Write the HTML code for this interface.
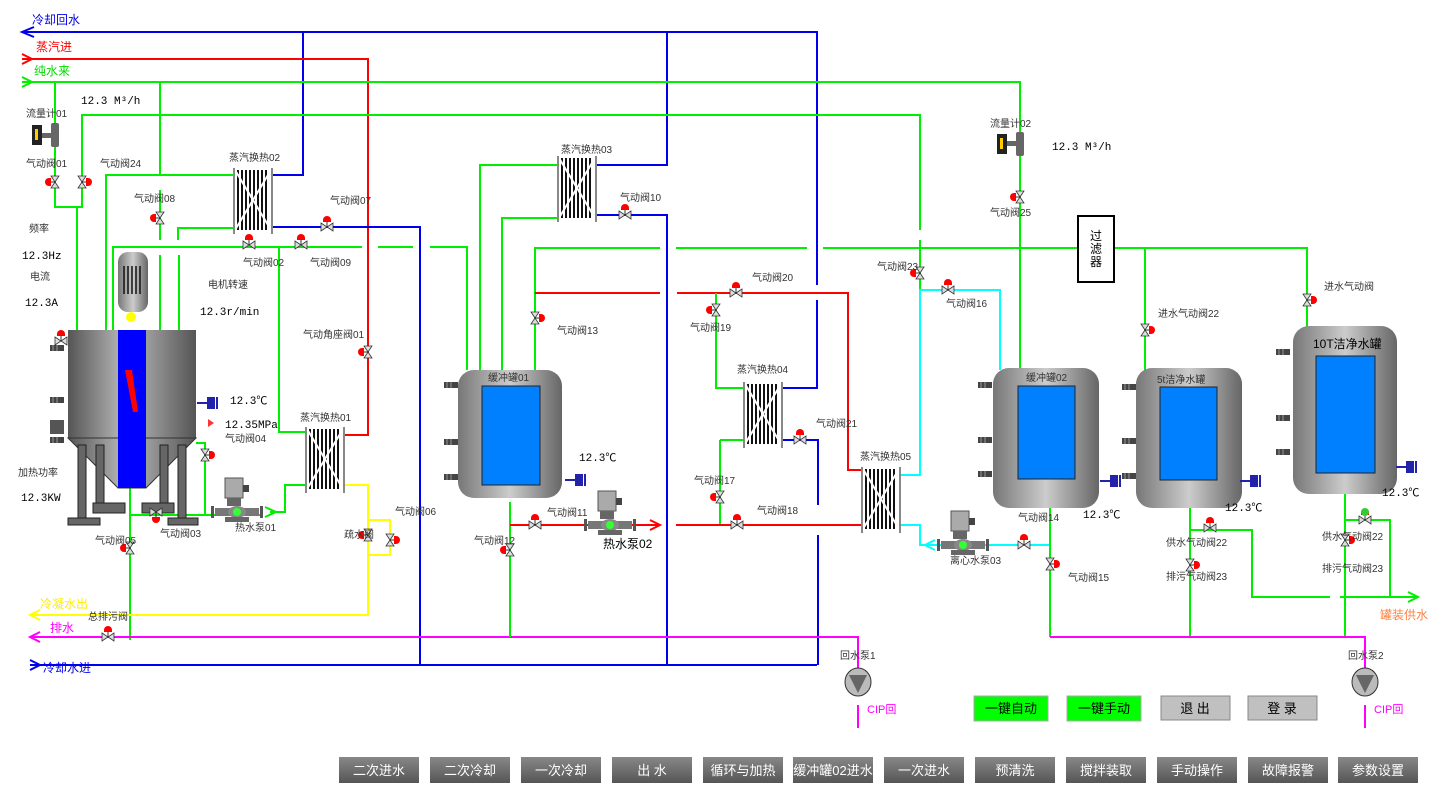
<!DOCTYPE html>
<html><head><meta charset="utf-8"><style>
html,body{margin:0;padding:0;background:#fff;}
svg{display:block;font-family:"Liberation Sans","Noto Sans CJK SC",sans-serif;}
.s{font-size:10px;fill:#333;}
.m{font-size:11px;fill:#000;font-family:"Liberation Mono","Noto Sans CJK SC",monospace;}
.g{stroke:#00ee00;stroke-width:2;fill:none;}
.b{stroke:#0000ee;stroke-width:2;fill:none;}
.r{stroke:#ff0000;stroke-width:2;fill:none;}
.y{stroke:#ffff00;stroke-width:2;fill:none;}
.p{stroke:#ff00ff;stroke-width:2;fill:none;}
.c{stroke:#00ffff;stroke-width:2;fill:none;}
.btn{fill:url(#bg);}
.bt{font-size:13px;fill:#fff;text-anchor:middle;}
</style></head><body>
<svg width="1437" height="806" viewBox="0 0 1437 806">
<defs>
<linearGradient id="tk" x1="0" x2="1"><stop offset="0" stop-color="#555"/><stop offset="0.45" stop-color="#bbb"/><stop offset="1" stop-color="#555"/></linearGradient>
<linearGradient id="tk2" x1="0" x2="1"><stop offset="0" stop-color="#777"/><stop offset="0.5" stop-color="#ccc"/><stop offset="1" stop-color="#666"/></linearGradient>
<linearGradient id="bg" x1="0" y1="0" x2="0" y2="1"><stop offset="0" stop-color="#888"/><stop offset="1" stop-color="#555"/></linearGradient>
<g id="vh"><path d="M-6,-4 L0,0 L-6,4Z M6,-4 L0,0 L6,4Z" fill="#ddd" stroke="#333" stroke-width="0.8"/><line x1="0" y1="0" x2="0" y2="-6" stroke="#333"/><path d="M-4,-7 a4,4 0 0 1 8,0 l0,2 h-8z" fill="#f00"/></g>
<g id="vv"><path d="M-4,-6 L0,0 L4,-6Z M-4,6 L0,0 L4,6Z" fill="#ddd" stroke="#333" stroke-width="0.8"/><line x1="0" y1="0" x2="-6" y2="0" stroke="#333"/><path d="M-6,-4 a4,4 0 0 0 0,8 h2 v-8z" fill="#f00"/></g>
<g id="vvr"><path d="M-4,-6 L0,0 L4,-6Z M-4,6 L0,0 L4,6Z" fill="#ddd" stroke="#333" stroke-width="0.8"/><line x1="0" y1="0" x2="6" y2="0" stroke="#333"/><path d="M6,-4 a4,4 0 0 1 0,8 h-2 v-8z" fill="#f00"/></g>
<g id="hx"><rect x="0" y="0" width="40" height="64" fill="#fff"/><g stroke="#111" stroke-width="2"><line x1="5" y1="2" x2="5" y2="62"/><line x1="9" y1="2" x2="9" y2="62"/><line x1="13" y1="2" x2="13" y2="62"/><line x1="17" y1="2" x2="17" y2="62"/><line x1="21" y1="2" x2="21" y2="62"/><line x1="25" y1="2" x2="25" y2="62"/><line x1="29" y1="2" x2="29" y2="62"/><line x1="33" y1="2" x2="33" y2="62"/></g><path d="M2,2 L38,62 M38,2 L2,62" stroke="#fff" stroke-width="2"/><rect x="0" y="0" width="2" height="66" fill="#888"/><rect x="38" y="0" width="2" height="66" fill="#888"/></g>
<g id="pump"><rect x="-12" y="-34" width="18" height="20" fill="#aaa" stroke="#555"/><rect x="6" y="-27" width="6" height="7" fill="#444"/><rect x="-10" y="-14" width="14" height="8" fill="#666"/><rect x="-22" y="-4" width="44" height="8" fill="#777"/><rect x="-26" y="-6" width="3" height="12" fill="#555"/><rect x="23" y="-6" width="3" height="12" fill="#555"/><ellipse cx="0" cy="0" rx="9" ry="6" fill="#888"/><circle cx="0" cy="0" r="4" fill="#3f3"/><rect x="-12" y="5" width="24" height="5" fill="#666"/></g>
<g id="tt"><rect x="0" y="-6" width="8" height="12" fill="#22a"/><line x1="-10" y1="0" x2="0" y2="0" stroke="#22a" stroke-width="2"/><line x1="10" y1="-6" x2="10" y2="6" stroke="#22a" stroke-width="2"/></g>
<g id="nz"><rect x="0" y="-3" width="14" height="6" fill="#444"/><line x1="3" y1="-3" x2="3" y2="3" stroke="#999"/><line x1="7" y1="-3" x2="7" y2="3" stroke="#999"/></g>
</defs>

<path class="b" d="M24,32 H817 V285 M817,300 V388 H780"/>
<path d="M34,27 L22,32 L34,37" class="b"/>
<path class="b" d="M303,32 V175 H271"/>
<path class="b" d="M667,32 V165 H597"/>
<path class="r" d="M22,59 H368 V435 H345"/>
<path d="M22,54 L32,59 L22,64" class="r"/>
<path class="g" d="M22,82 H1020 V370"/>
<path d="M22,77 L32,82 L22,87" class="g"/>
<path class="g" d="M160,82 V175 M160,190 V240 M160,255 V330"/>
<path class="g" d="M55,82 V207 H82 V115 H920 V230 M920,240 V475 H901"/>
<path class="g" d="M77,207 V330"/>
<path class="g" d="M106,330 V175 H233"/>
<path class="g" d="M113,330 V247 H362 M378,247 H413 M430,247 H467 V370"/>
<path class="g" d="M178,240 V228 H233"/>
<path class="g" d="M179,255 V330 M279,247 V432 H305"/>
<path class="b" d="M271,227 H420 V665"/>
<path class="g" d="M480,370 V165 H557 M502,370 V218 H557 M535,370 V248 H660 M676,248 H807 M823,248 H1307 V340"/>
<path class="r" d="M535,293 H660 M677,293 H848 V470 H861"/>
<path class="b" d="M597,215 H667 V665"/>
<path class="g" d="M716,293 V388 H743"/>
<path class="b" d="M783,440 H818 V505 M818,535 V665"/>
<path class="g" d="M720,440 H743 M720,440 V525"/>
<path class="r" d="M676,525 H861"/>
<path class="c" d="M901,475 H920 V290 H1000 V370"/>
<path class="c" d="M901,525 H920 V545 H1050"/>
<path d="M935,540 L925,545 L935,550" class="c"/>
<path class="g" d="M1145,248 V370"/>
<path class="g" d="M196,443 H205 V515 H130"/>
<path class="g" d="M130,488 V640"/>
<path class="g" d="M205,515 H260 M270,512 H285 V485 H305"/>
<path d="M265,507 L276,512 L265,517" class="g"/>
<path class="y" d="M345,485 H368 V615 H30"/>
<path class="y" d="M368,520 H390 V555 H368"/>
<path d="M40,610 L30,615 L40,620" class="y"/>
<path class="p" d="M30,637 H858 V690 M858,705 V728"/>
<path d="M40,632 L30,637 L40,642" class="p"/>
<path class="b" d="M30,665 H817"/>
<path d="M30,660 L40,665 L30,670" class="b"/>
<path class="g" d="M510,502 V637"/>
<path class="r" d="M510,525 H660"/>
<path d="M650,520 L660,525 L650,530" class="r"/>
<path class="c" d="M1018,545 H1050"/>
<path class="g" d="M1050,505 V637 M1190,505 V637 M1345,492 V637"/>
<path class="p" d="M1050,637 H1365 V690 M1365,705 V728"/>
<path class="g" d="M1190,530 H1252 V597 H1330 M1345,520 H1390 V597 M1340,597 H1418"/>
<path d="M1408,592 L1418,597 L1408,602" class="g"/>

<use href="#hx" x="233" y="168"/>
<use href="#hx" x="305" y="427"/>
<use href="#hx" x="557" y="156"/>
<use href="#hx" x="743" y="382"/>
<use href="#hx" x="861" y="467"/>

<rect x="68" y="330" width="128" height="108" fill="url(#tk)"/>
<path d="M68,438 H196 L146,488 H118Z" fill="url(#tk)" stroke="#333"/>
<g fill="#666" stroke="#222"><rect x="78" y="445" width="8" height="75"/><rect x="96" y="445" width="8" height="60"/><rect x="160" y="445" width="8" height="60"/><rect x="178" y="445" width="8" height="75"/><rect x="68" y="518" width="32" height="7"/><rect x="168" y="518" width="30" height="7"/><rect x="93" y="503" width="32" height="10"/><rect x="142" y="503" width="32" height="10"/></g>
<rect x="118" y="330" width="28" height="158" fill="#0000ff"/>
<path d="M125,370 L132,370 L138,412 L133,412Z" fill="#f00"/>
<rect x="118" y="252" width="30" height="60" rx="10" fill="url(#tk2)"/>
<g stroke="#111" stroke-width="1.5"><line x1="124" y1="266" x2="124" y2="294"/><line x1="128" y1="266" x2="128" y2="294"/><line x1="132" y1="266" x2="132" y2="294"/><line x1="136" y1="266" x2="136" y2="294"/><line x1="140" y1="266" x2="140" y2="294"/></g>
<circle cx="131" cy="317" r="5" fill="#ff0"/>
<use href="#nz" x="50" y="348"/><use href="#nz" x="50" y="400"/><use href="#nz" x="50" y="440"/>
<rect x="50" y="420" width="14" height="14" fill="#555"/>
<use href="#tt" x="207" y="403"/>
<path d="M200,423 h8 v-4 l6,4 -6,4 v-4" fill="#f33"/>

<rect x="458" y="370" width="104" height="128" rx="16" fill="url(#tk2)"/>
<rect x="482" y="386" width="58" height="99" fill="#0080ff" stroke="#222"/>
<use href="#nz" x="444" y="385"/><use href="#nz" x="444" y="442"/><use href="#nz" x="444" y="477"/>
<use href="#tt" x="575" y="480"/>
<rect x="993" y="368" width="106" height="140" rx="16" fill="url(#tk2)"/>
<rect x="1018" y="386" width="57" height="93" fill="#0080ff" stroke="#222"/>
<rect x="1136" y="368" width="106" height="140" rx="16" fill="url(#tk2)"/>
<rect x="1160" y="387" width="57" height="93" fill="#0080ff" stroke="#222"/>
<rect x="1293" y="326" width="104" height="168" rx="16" fill="url(#tk2)"/>
<rect x="1316" y="356" width="59" height="117" fill="#0080ff" stroke="#222"/>
<use href="#nz" x="978" y="385"/><use href="#nz" x="978" y="440"/><use href="#nz" x="978" y="474"/>
<use href="#nz" x="1122" y="387"/><use href="#nz" x="1122" y="441"/><use href="#nz" x="1122" y="476"/>
<use href="#nz" x="1276" y="352"/><use href="#nz" x="1276" y="418"/><use href="#nz" x="1276" y="452"/>
<use href="#tt" x="1110" y="481"/><use href="#tt" x="1250" y="481"/><use href="#tt" x="1406" y="467"/>

<rect x="1078" y="216" width="36" height="66" fill="#fff" stroke="#000" stroke-width="2"/>
<text x="1096" y="240" font-size="12" text-anchor="middle">过</text><text x="1096" y="253" font-size="12" text-anchor="middle">滤</text><text x="1096" y="266" font-size="12" text-anchor="middle">器</text>

<g><rect x="32" y="125" width="10" height="20" fill="#222"/><rect x="35" y="129" width="3" height="11" fill="#fc0"/><rect x="42" y="133" width="9" height="5" fill="#666"/><rect x="51" y="123" width="8" height="24" rx="2" fill="#666"/></g>
<g><rect x="997" y="134" width="10" height="20" fill="#222"/><rect x="1000" y="138" width="3" height="11" fill="#fc0"/><rect x="1007" y="141" width="9" height="5" fill="#666"/><rect x="1016" y="132" width="8" height="24" rx="2" fill="#666"/></g>

<use href="#pump" x="237" y="512"/>
<use href="#pump" x="610" y="525"/>
<use href="#pump" x="963" y="545"/>
<g><ellipse cx="858" cy="682" rx="13" ry="14" fill="#bbb" stroke="#333"/><path d="M849,675 H867 L858,693Z" fill="#666"/></g>
<g><ellipse cx="1365" cy="682" rx="13" ry="14" fill="#bbb" stroke="#333"/><path d="M1356,675 H1374 L1365,693Z" fill="#666"/></g>

<use href="#vv" x="55" y="182"/><use href="#vvr" x="82" y="182"/>
<use href="#vv" x="160" y="218"/>
<use href="#vh" x="249" y="245"/><use href="#vh" x="301" y="245"/><use href="#vh" x="327" y="227"/>
<use href="#vh" x="61" y="341"/>
<use href="#vv" x="368" y="352"/>
<use href="#vvr" x="205" y="455"/>
<use href="#vh" x="156" y="518" transform="rotate(180 156 515)"/>
<use href="#vv" x="130" y="548"/>
<use href="#vvr" x="390" y="540"/>
<use href="#vv" x="368" y="535"/>
<use href="#vh" x="108" y="637"/>
<use href="#vh" x="625" y="215"/>
<use href="#vvr" x="535" y="318"/>
<use href="#vh" x="736" y="293"/>
<use href="#vv" x="716" y="310"/>
<use href="#vh" x="800" y="440"/>
<use href="#vv" x="720" y="497"/>
<use href="#vh" x="737" y="525"/>
<use href="#vh" x="535" y="525"/>
<use href="#vv" x="510" y="550"/>
<use href="#vv" x="920" y="273"/>
<use href="#vh" x="948" y="290"/>
<use href="#vv" x="1020" y="197"/>
<use href="#vvr" x="1145" y="330"/>
<use href="#vvr" x="1307" y="300"/>
<use href="#vh" x="1024" y="545"/>
<use href="#vvr" x="1050" y="564"/>
<use href="#vh" x="1210" y="528"/>
<use href="#vvr" x="1190" y="565"/>
<use href="#vh" x="1365" y="520"/>
<use href="#vvr" x="1345" y="540"/>
<circle cx="1365" cy="512" r="4" fill="#3c3"/>

<text x="32" y="24" font-size="12" fill="#0000ee">冷却回水</text>
<text x="36" y="51" font-size="12" fill="#ff0000">蒸汽进</text>
<text x="34" y="75" font-size="12" fill="#00dd00">纯水来</text>
<text x="40" y="608" font-size="12" fill="#ffee00">冷凝水出</text>
<text x="50" y="632" font-size="12" fill="#ff00ff">排水</text>
<text x="43" y="672" font-size="12" fill="#0000ee">冷却水进</text>
<text x="1380" y="619" font-size="12" fill="#ff8040">罐装供水</text>
<text x="867" y="713" font-size="11" fill="#ff00ff">CIP回</text>
<text x="1374" y="713" font-size="11" fill="#ff00ff">CIP回</text>

<text x="81" y="104" class="m">12.3   M³/h</text>
<text x="1052" y="150" class="m">12.3   M³/h</text>
<text x="22" y="259" class="m">12.3Hz</text>
<text x="25" y="306" class="m">12.3A</text>
<text x="200" y="315" class="m">12.3r/min</text>
<text x="230" y="404" class="m">12.3℃</text>
<text x="225" y="428" class="m">12.35MPa</text>
<text x="21" y="501" class="m">12.3KW</text>
<text x="579" y="461" class="m">12.3℃</text>
<text x="1083" y="518" class="m">12.3℃</text>
<text x="1225" y="511" class="m">12.3℃</text>
<text x="1382" y="496" class="m" font-size="12">12.3℃</text>

<g class="s">
<text x="26" y="117">流量计01</text>
<text x="26" y="167">气动阀01</text>
<text x="100" y="167">气动阀24</text>
<text x="134" y="202">气动阀08</text>
<text x="229" y="161">蒸汽换热02</text>
<text x="330" y="204">气动阀07</text>
<text x="243" y="266">气动阀02</text>
<text x="310" y="266">气动阀09</text>
<text x="29" y="232">频率</text>
<text x="30" y="280">电流</text>
<text x="208" y="288">电机转速</text>
<text x="303" y="338">气动角座阀01</text>
<text x="300" y="421">蒸汽换热01</text>
<text x="225" y="442">气动阀04</text>
<text x="18" y="476">加热功率</text>
<text x="160" y="537">气动阀03</text>
<text x="235" y="531">热水泵01</text>
<text x="95" y="544">气动阀05</text>
<text x="344" y="538">疏水阀</text>
<text x="395" y="515">气动阀06</text>
<text x="88" y="620">总排污阀</text>
<text x="561" y="153">蒸汽换热03</text>
<text x="620" y="201">气动阀10</text>
<text x="557" y="334">气动阀13</text>
<text x="488" y="381">缓冲罐01</text>
<text x="547" y="516">气动阀11</text>
<text x="474" y="544">气动阀12</text>
<text x="752" y="281">气动阀20</text>
<text x="690" y="331">气动阀19</text>
<text x="737" y="373">蒸汽换热04</text>
<text x="816" y="427">气动阀21</text>
<text x="694" y="484">气动阀17</text>
<text x="757" y="514">气动阀18</text>
<text x="860" y="460">蒸汽换热05</text>
<text x="877" y="270">气动阀23</text>
<text x="946" y="307">气动阀16</text>
<text x="990" y="127">流量计02</text>
<text x="990" y="216">气动阀25</text>
<text x="1026" y="381">缓冲罐02</text>
<text x="1157" y="383">5t洁净水罐</text>
<text x="1158" y="317">进水气动阀22</text>
<text x="1324" y="290">进水气动阀</text>
<text x="1018" y="521">气动阀14</text>
<text x="1068" y="581">气动阀15</text>
<text x="950" y="564">离心水泵03</text>
<text x="1166" y="546">供水气动阀22</text>
<text x="1166" y="580">排污气动阀23</text>
<text x="1322" y="540">供水气动阀22</text>
<text x="1322" y="572">排污气动阀23</text>
<text x="840" y="659">回水泵1</text>
<text x="1348" y="659">回水泵2</text>
</g>
<text x="1313" y="348" font-size="12" fill="#000">10T洁净水罐</text>
<text x="603" y="548" font-size="12" fill="#000">热水泵02</text>

<rect x="974" y="696" width="74" height="25" fill="#00ff00" stroke="#aaa"/><text x="1011" y="713" font-size="13" text-anchor="middle">一键自动</text>
<rect x="1067" y="696" width="74" height="25" fill="#00ff00" stroke="#aaa"/><text x="1104" y="713" font-size="13" text-anchor="middle">一键手动</text>
<rect x="1161" y="696" width="69" height="24" fill="#c0c0c0" stroke="#888"/><text x="1195" y="713" font-size="13" text-anchor="middle">退 出</text>
<rect x="1248" y="696" width="69" height="24" fill="#c0c0c0" stroke="#888"/><text x="1282" y="713" font-size="13" text-anchor="middle">登 录</text>

<g>
<rect class="btn" x="339" y="757" width="80" height="26"/><text class="bt" x="379" y="775">二次进水</text>
<rect class="btn" x="430" y="757" width="80" height="26"/><text class="bt" x="470" y="775">二次冷却</text>
<rect class="btn" x="521" y="757" width="80" height="26"/><text class="bt" x="561" y="775">一次冷却</text>
<rect class="btn" x="612" y="757" width="80" height="26"/><text class="bt" x="652" y="775">出 水</text>
<rect class="btn" x="703" y="757" width="80" height="26"/><text class="bt" x="743" y="775">循环与加热</text>
<rect class="btn" x="793" y="757" width="80" height="26"/><text class="bt" x="833" y="775">缓冲罐02进水</text>
<rect class="btn" x="884" y="757" width="80" height="26"/><text class="bt" x="924" y="775">一次进水</text>
<rect class="btn" x="975" y="757" width="80" height="26"/><text class="bt" x="1015" y="775">预清洗</text>
<rect class="btn" x="1066" y="757" width="80" height="26"/><text class="bt" x="1106" y="775">搅拌装取</text>
<rect class="btn" x="1157" y="757" width="80" height="26"/><text class="bt" x="1197" y="775">手动操作</text>
<rect class="btn" x="1248" y="757" width="80" height="26"/><text class="bt" x="1288" y="775">故障报警</text>
<rect class="btn" x="1338" y="757" width="80" height="26"/><text class="bt" x="1378" y="775">参数设置</text>
</g>
</svg>
</body></html>
